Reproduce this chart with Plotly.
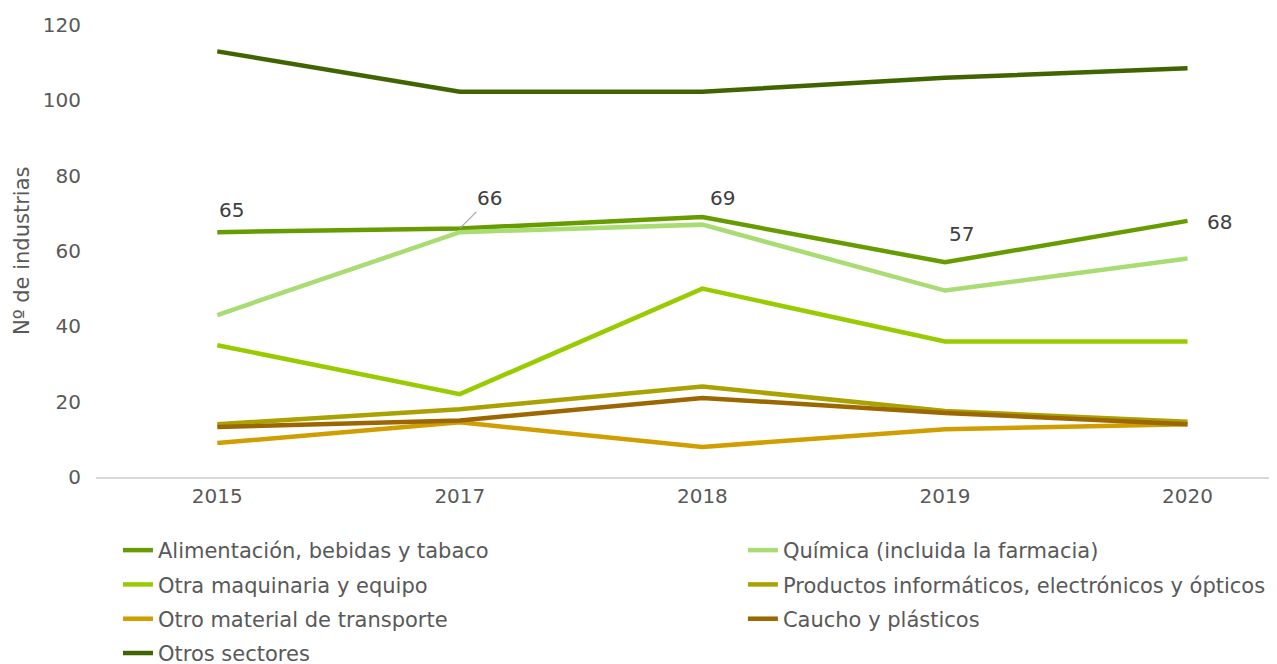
import plotly.graph_objects as go

years = ["2015", "2017", "2018", "2019", "2020"]

alimentacion = [65, 66, 69, 57, 68]
quimica = [43, 65, 67, 49.5, 58]
otra_maquinaria = [35, 22, 50, 36, 36]
productos_inf = [14, 18, 24, 17.5, 14.7]
otro_material = [9, 14.5, 8, 12.7, 14]
caucho = [13.3, 15, 21, 17, 14]
otros_sectores = [113, 102.3, 102.3, 106, 108.5]

y_title = "Nº de industrias"

series = [
    ("Alimentación, bebidas y tabaco", alimentacion, "#669c00", "legend"),
    ("Química (incluida la farmacia)", quimica, "#a9dc72", "legend2"),
    ("Otra maquinaria y equipo", otra_maquinaria, "#99cc00", "legend"),
    ("Productos informáticos, electrónicos y ópticos", productos_inf, "#a9a200", "legend2"),
    ("Otro material de transporte", otro_material, "#d09e00", "legend"),
    ("Caucho y plásticos", caucho, "#9c6700", "legend2"),
    ("Otros sectores", otros_sectores, "#406400", "legend"),
]

FONT = "DejaVu Sans"
GREY = "#595959"
fig = go.Figure()
for i, (name, vals, color, leg) in enumerate(series):
    fig.add_trace(go.Scatter(
        x=years, y=vals, name=name, mode="lines",
        line=dict(color=color, width=4.5),
        legend=leg, legendgroup=f"g{i}",
    ))

# data labels for Alimentación
label_shifts = [(14, 22), (None, None), (20, 19), (17, 28), (32, -1)]
for i, v in enumerate(alimentacion):
    xs, ys = label_shifts[i]
    if xs is None:
        fig.add_annotation(x=i, y=v, text=str(v), showarrow=True, arrowhead=0,
                           arrowwidth=1.2, arrowcolor="#a6a6a6", ax=30, ay=-30,
                           font=dict(family=FONT, size=20, color="#404040"))
    else:
        fig.add_annotation(x=i, y=v, text=str(v), showarrow=False,
                           xshift=xs, yshift=ys,
                           font=dict(family=FONT, size=20, color="#404040"))

# y-axis title
fig.add_annotation(xref="paper", yref="paper", x=0, y=0.5, xshift=-74,
                   text=y_title, textangle=-90, showarrow=False,
                   xanchor="center", yanchor="middle",
                   font=dict(family=FONT, size=21, color=GREY))

legend_common = dict(yref="container", xref="container", y=0.2139,
                     xanchor="left", yanchor="top", orientation="v",
                     tracegroupgap=4, font=dict(family=FONT, size=21, color=GREY),
                     bgcolor="rgba(0,0,0,0)")

fig.update_layout(
    width=1277, height=664,
    margin=dict(l=88, r=15, t=17, b=195, autoexpand=False),
    plot_bgcolor="white", paper_bgcolor="white",
    font=dict(family=FONT, size=20, color=GREY),
    xaxis=dict(type="category", range=[-0.5, 4.34], showgrid=False,
               showline=True, linecolor="#d9d9d9", linewidth=1.5, ticks="",
               tickangle=0, tickfont=dict(size=20, color=GREY)),
    yaxis=dict(range=[0, 120], dtick=20, showgrid=False, zeroline=False,
               showline=False, ticks="outside", ticklen=10,
               tickcolor="rgba(0,0,0,0)",
               tickfont=dict(size=20, color=GREY)),
    legend=dict(x=0.0861, **legend_common),
    legend2=dict(x=0.5755, **legend_common),
)

fig.write_html("out.html")
